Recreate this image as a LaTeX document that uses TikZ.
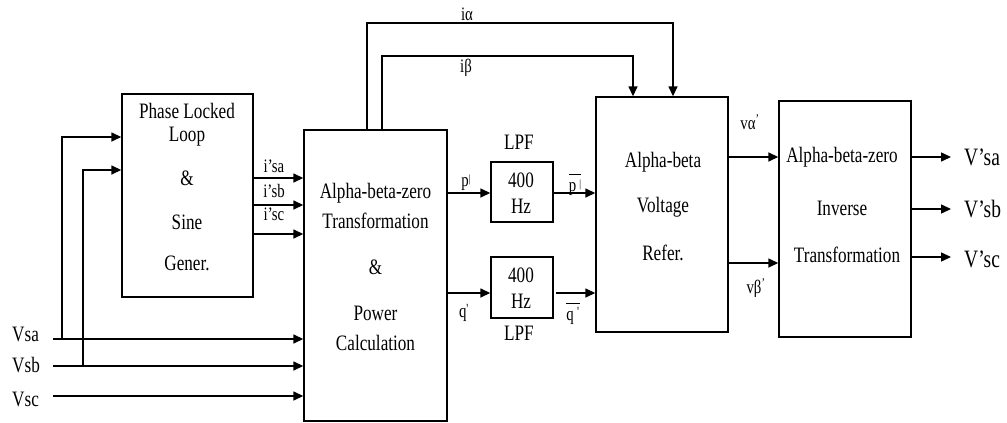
\documentclass[tikz,border=0pt]{standalone}
\usepackage{fontspec}
\setmainfont{Liberation Serif}[FakeStretch=0.78]
\usetikzlibrary{arrows.meta}
\newcommand\mybar{\raisebox{0.5ex}{\fontsize{11}{11}\selectfont\textbar}}
\newcommand\mytick{\raisebox{0.55ex}{\fontsize{14}{14}\selectfont\textquotesingle}}
\begin{document}
\begin{tikzpicture}[x=1pt,y=-1pt,
  blk/.style={draw, line width=1.4pt, inner sep=0pt, rectangle},
  arr/.style={line width=1.5pt, -{Triangle[length=10pt,width=9pt]}},
  txt/.style={inner sep=0pt, font=\fontsize{22}{24}\selectfont},
  stxt/.style={inner sep=0pt, font=\fontsize{19}{20}\selectfont},
  btxt/.style={inner sep=0pt, font=\fontsize{25}{26}\selectfont}]
\useasboundingbox (0,0) rectangle (1007,423);
\fill[white] (0,0) rectangle (1007,423);

% blocks
\node[blk, minimum width=131pt, minimum height=203pt] (pll) at (187.5,195.5) {};
\node[blk, minimum width=143pt, minimum height=291pt] (abz) at (375.5,275.5) {};
\node[blk, minimum width=62pt, minimum height=60pt] (lpf1) at (522,192) {};
\node[blk, minimum width=62pt, minimum height=61pt] (lpf2) at (522,287.5) {};
\node[blk, minimum width=132pt, minimum height=235pt] (abv) at (662,214.5) {};
\node[blk, minimum width=132pt, minimum height=236pt] (inv) at (845,219) {};

% block texts
\node[txt] (pt1) at (187,111) {Phase Locked};
\node[txt] (pt2) at (187,137) {Loop};
\node[txt] (pt3) at (187,178) {\&};
\node[txt] (pt4) at (187,222) {Sine};
\node[txt] (pt5) at (187,263) {Gener.};

\node[txt] (at1) at (375.5,193) {Alpha-beta-zero};
\node[txt] (at2) at (375.5,221) {Transformation};
\node[txt] (at3) at (375.5,267) {\&};
\node[txt] (at4) at (375.5,313) {Power};
\node[txt] (at5) at (375.5,343) {Calculation};

\node[txt] (l1a) at (521,180) {400};
\node[txt] (l1b) at (521,206) {Hz};
\node[txt] (l2a) at (521,275) {400};
\node[txt] (l2b) at (521,301) {Hz};
\node[txt] (lpfu) at (519,142) {LPF};
\node[txt] (lpfd) at (519,333) {LPF};

\node[txt] (vt1) at (663,162) {Alpha-beta};
\node[txt] (vt2) at (663,207) {Voltage};
\node[txt] (vt3) at (663,253) {Refer.};

\node[txt] (it1) at (842,157) {Alpha-beta-zero};
\node[txt] (it2) at (842,208) {Inverse};
\node[txt] (it3) at (847,255) {Transformation};

% inputs
\coordinate (vsa) at (53,339);
\coordinate (vsb) at (53,366);
\coordinate (vsc) at (53,396);
\draw[arr] (vsa) -- (vsa -| abz.west);
\draw[arr] (vsb) -- (vsb -| abz.west);
\draw[arr] (vsc) -- (vsc -| abz.west);
\node[txt, anchor=west] (lsa) at (12,334) {Vsa};
\node[txt, anchor=west] (lsb) at (12,365) {Vsb};
\node[txt, anchor=west] (lsc) at (12,399) {Vsc};

\coordinate (ja) at (62,339);
\coordinate (jat) at (62,137);
\coordinate (jb) at (83,366);
\coordinate (jbt) at (83,170);
\draw[arr] (ja) -- (jat) -- (jat -| pll.west);
\draw[arr] (jb) -- (jbt) -- (jbt -| pll.west);

% PLL outputs
\coordinate (isa) at (253,178);
\coordinate (isb) at (253,205);
\coordinate (isc) at (253,234);
\draw[arr] (isa) -- (isa -| abz.west);
\draw[arr] (isb) -- (isb -| abz.west);
\draw[arr] (isc) -- (isc -| abz.west);
\node[stxt] (lisa) at (274,166) {i’sa};
\node[stxt] (lisb) at (274,191) {i’sb};
\node[stxt] (lisc) at (274,214) {i’sc};

% i alpha / i beta
\coordinate (ia1) at (367,23);
\coordinate (ia2) at (673,23);
\coordinate (ib1) at (382,56);
\coordinate (ib2) at (633,56);
\draw[arr] (abz.north -| ia1) -- (ia1) -- (ia2) -- (abv.north -| ia2);
\draw[arr] (abz.north -| ib1) -- (ib1) -- (ib2) -- (abv.north -| ib2);
\node[stxt] (lia) at (467,14) {iα};
\node[stxt] (lib) at (466,68) {iβ};

% p, q
\coordinate (py) at (447,193);
\coordinate (qy) at (447,293);
\coordinate (qb) at (556,293);
\draw[arr] (abz.east |- py) -- (lpf1.west |- py);
\draw[arr] (lpf1.east |- py) -- (abv.west |- py);
\draw[arr] (abz.east |- qy) -- (lpf2.west |- qy);
\draw[arr] (qb) -- (abv.west |- qy);
\node[stxt] (lp) at (466,183) {p\mybar};
\node[stxt] (lq) at (464,313) {q\mytick};
\node[stxt] (lpb) at (575,185) {$\overline{\hbox{\rule{0pt}{16pt}p\,\mybar}}$};
\node[stxt] (lqb) at (573,314) {$\overline{\hbox{\rule{0pt}{16pt}q\,\mytick}}$};

% v alpha / v beta
\coordinate (va) at (728,157);
\coordinate (vb) at (728,263);
\draw[arr] (abv.east |- va) -- (inv.west |- va);
\draw[arr] (abv.east |- vb) -- (inv.west |- vb);
\node[stxt] (lva) at (750,122) {vα\textsuperscript{’}};
\node[stxt] (lvb) at (756,288) {vβ\textsuperscript{’}};

% outputs
\coordinate (oa) at (951,157);
\coordinate (ob) at (951,209);
\coordinate (oc) at (951,257);
\draw[arr] (inv.east |- oa) -- (oa);
\draw[arr] (inv.east |- ob) -- (ob);
\draw[arr] (inv.east |- oc) -- (oc);
\node[btxt, anchor=west] (losa) at (964,157) {V’sa};
\node[btxt, anchor=west] (losb) at (964,209) {V’sb};
\node[btxt, anchor=west] (losc) at (964,259) {V’sc};
\end{tikzpicture}
\end{document}
